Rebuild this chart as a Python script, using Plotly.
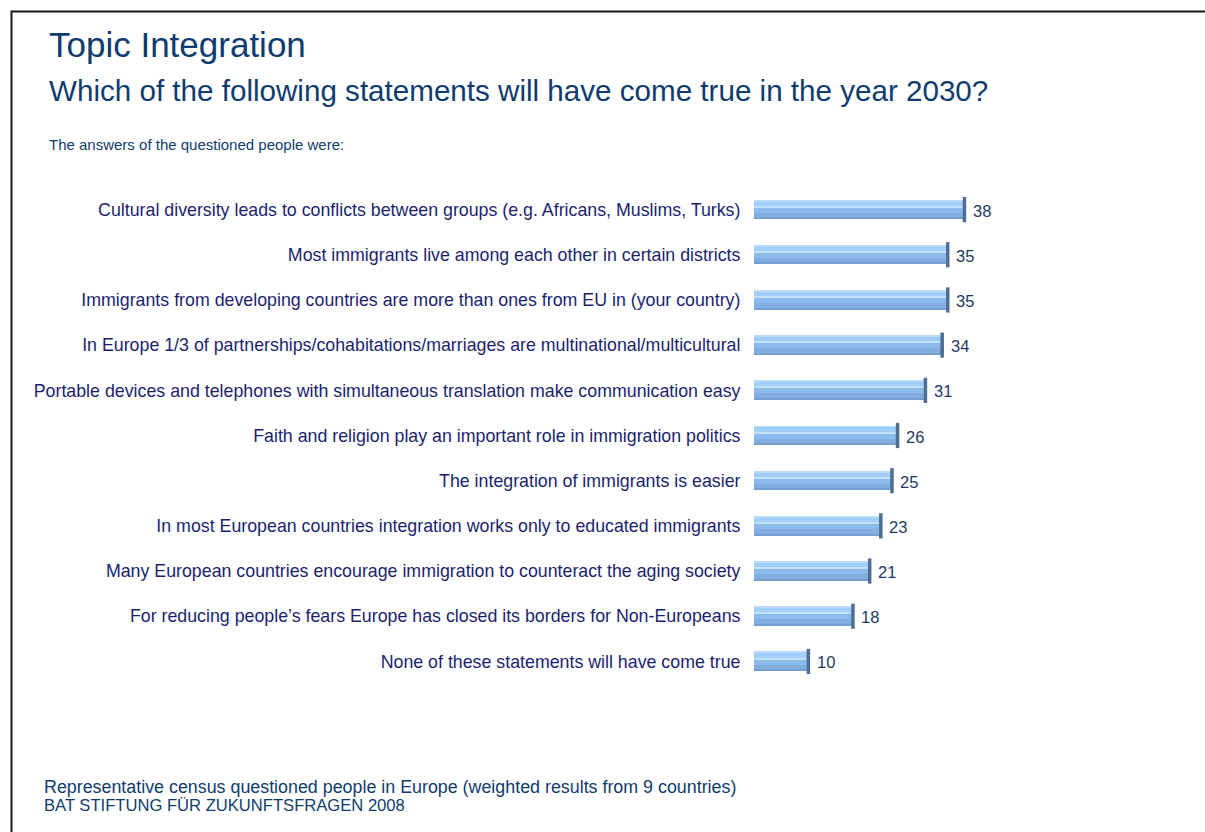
import plotly.graph_objects as go

# Survey statements (top to bottom) and share of respondents in percent
statements = [
    "Cultural diversity leads to conflicts between groups (e.g. Africans, Muslims, Turks)",
    "Most immigrants live among each other in certain districts",
    "Immigrants from developing countries are more than ones from EU in (your country)",
    "In Europe 1/3 of partnerships/cohabitations/marriages are multinational/multicultural",
    "Portable devices and telephones with simultaneous translation make communication easy",
    "Faith and religion play an important role in immigration politics",
    "The integration of immigrants is easier",
    "In most European countries integration works only to educated immigrants",
    "Many European countries encourage immigration to counteract the aging society",
    "For reducing people\u2019s fears Europe has closed its borders for Non-Europeans",
    "None of these statements will have come true",
]
shares = [38, 35, 35, 34, 31, 26, 25, 23, 21, 18, 10]

title_text = "Topic Integration"
subtitle_text = "Which of the following statements will have come true in the year 2030?"
intro_text = "The answers of the questioned people were:"
footer_lines = [
    "Representative census questioned people in Europe (weighted results from 9 countries)",
    "BAT STIFTUNG F\u00dcR ZUKUNFTSFRAGEN 2008",
]

W, H = 1205, 832
ML, MR, MT, MB = 754, 228, 187, 148
FONT = "Liberation Sans, Arial, sans-serif"
TITLE_COLOR = "#0f3c6e"
LABEL_COLOR = "#1b1f6e"
VALUE_COLOR = "#1e3a62"

fig = go.Figure()

# Layered bars give the tube a shaded, rounded look
layers = [
    # (offset, width, colour)
    (-0.21, 0.42, "#8cbaea"),
    (0.07, 0.14, "#83afe0"),
    (0.18, 0.03, "#749fd0"),
    (-0.21, 0.14, "#a2cff9"),
    (-0.21, 0.02, "#b8dafb"),
    (-0.075, 0.03, "#c3e0fc"),
]
for off, wd, col in layers:
    fig.add_trace(go.Bar(
        y=statements, x=shares, orientation="h",
        offset=off, width=wd,
        marker=dict(color=col, line=dict(width=0)),
        hoverinfo="skip", showlegend=False,
    ))

# Dark end cap of each tube
fig.add_trace(go.Scatter(
    y=statements, x=[v - 0.25 for v in shares], mode="markers",
    marker=dict(symbol="line-ns", size=18, line=dict(width=3.5, color="#4f6e94")),
    hoverinfo="skip", showlegend=False, cliponaxis=False,
))

# Value labels
for s, v in zip(statements, shares):
    fig.add_annotation(
        x=v, y=s, xref="x", yref="y", text=str(v), showarrow=False,
        xanchor="left", yanchor="middle", xshift=5, yshift=-1,
        font=dict(family=FONT, size=16.5, color=VALUE_COLOR),
    )

plot_h = H - MT - MB
plot_w = W - ML - MR


def px_x(px):
    return (px - ML) / plot_w


def px_y(px):
    return (H - MB - px) / plot_h


def add_text(text, x_px, baseline_px, size, color):
    fig.add_annotation(
        x=px_x(x_px), y=px_y(baseline_px - 0.33 * size), xref="paper", yref="paper",
        text=text, showarrow=False, xanchor="left", yanchor="middle",
        font=dict(family=FONT, size=size, color=color),
    )


add_text(title_text, 47, 56, 35, TITLE_COLOR)
add_text(subtitle_text, 47, 100, 29.6, TITLE_COLOR)
add_text(intro_text, 47, 149, 15, TITLE_COLOR)
add_text(footer_lines[0], 42, 792.5, 17.85, TITLE_COLOR)
add_text(footer_lines[1], 42, 810.5, 16.6, TITLE_COLOR)

# Frame around the slide
fig.add_shape(
    type="rect", xref="paper", yref="paper",
    x0=px_x(11.5), x1=px_x(W + 20), y0=px_y(11.5), y1=px_y(H + 20),
    line=dict(color="#1a1a1a", width=2), fillcolor="rgba(0,0,0,0)",
)

fig.update_layout(
    width=W, height=H,
    margin=dict(l=ML, r=MR, t=MT, b=MB),
    paper_bgcolor="white", plot_bgcolor="white",
    barmode="overlay", bargap=0,
    xaxis=dict(range=[0, 40], visible=False, fixedrange=True),
    yaxis=dict(
        categoryorder="array", categoryarray=statements,
        range=[len(statements) - 0.5, -0.5], autorange=False,
        showgrid=False, zeroline=False, showline=False,
        ticks="outside", ticklen=9, tickcolor="rgba(0,0,0,0)",
        tickfont=dict(family=FONT, size=17.8, color=LABEL_COLOR),
        automargin=False,
    ),
    font=dict(family=FONT),
)

fig.write_html("out.html")
